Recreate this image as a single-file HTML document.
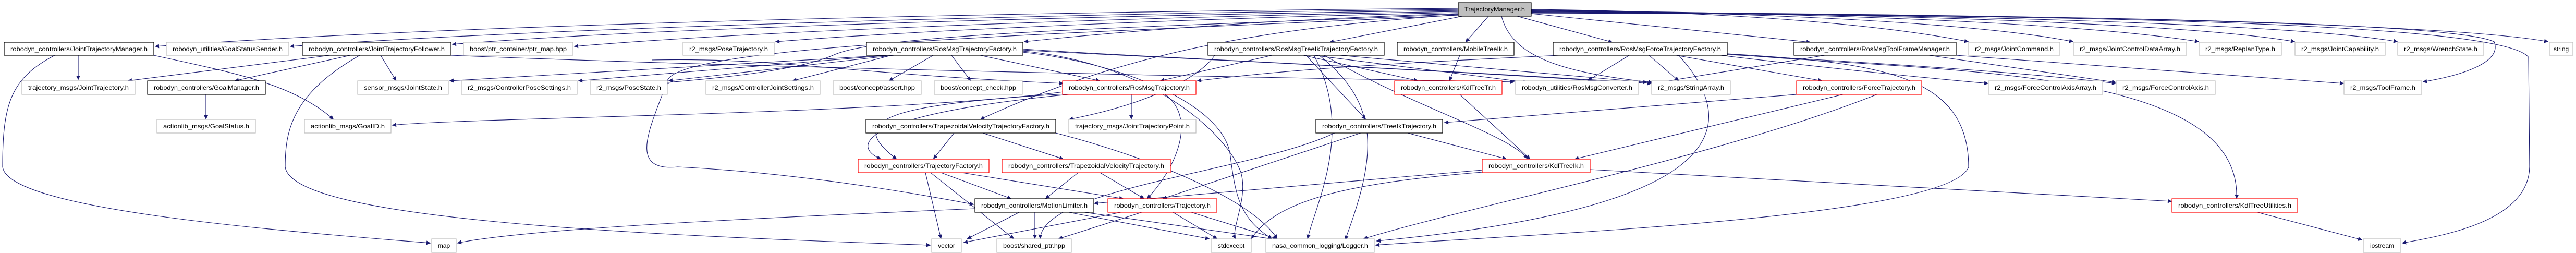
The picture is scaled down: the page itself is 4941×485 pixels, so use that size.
<!DOCTYPE html>
<html><head><meta charset="utf-8"><style>
html,body{margin:0;padding:0;background:#fff;}
svg{display:block;}
text{font-family:"Liberation Sans",sans-serif;font-size:12px;fill:#000;}
.e{fill:none;stroke:#191970;stroke-width:1.1;}
.g{fill:#fff;stroke:#bfbfbf;stroke-width:1.2;}
.b{fill:#fff;stroke:#000;stroke-width:1.2;}
.r{fill:#fff;stroke:#ff0000;stroke-width:1.2;}
</style></head><body>
<svg width="4941" height="485" viewBox="0 0 4941 485" xmlns="http://www.w3.org/2000/svg">
<defs><marker id="a" viewBox="0 0 10 10" refX="10" refY="5" markerWidth="11" markerHeight="8" markerUnits="userSpaceOnUse" orient="auto"><path d="M0,0 L10,5 L0,10 z" fill="#191970"/></marker></defs>
<g class="e" marker-end="url(#a)">
<!-- TrajectoryManager edges -->
<path d="M2797,16 C2000,22 900,45 297,89"/>
<path d="M2797,18 C2100,25 1100,50 556,89"/>
<path d="M2797,20 C2200,28 1300,50 867,85"/>
<path d="M2797,22 C2300,30 1500,55 1101,89"/>
<path d="M2797,24 C2400,32 1800,55 1487,80"/>
<path d="M2797,26 C2500,35 2200,55 1964,80"/>
<path d="M2805,31 L2550,81"/>
<path d="M2855,31 L2811,81"/>
<path d="M2910,31 L3093,81"/>
<path d="M2937,26 L3473,81"/>
<path d="M2937,18 C3300,22 3600,45 3776,80"/>
<path d="M2937,19 C3400,24 3800,45 3977,80"/>
<path d="M2937,20 C3500,24 4000,45 4218,80"/>
<path d="M2937,21 C3600,25 4200,45 4402,80"/>
<path d="M2937,22 C3700,26 4400,45 4599,80"/>
<path d="M2937,23 C3900,26 4700,45 4888,80"/>
<path d="M2937,24 C3900,28 4700,40 4784,80 C4800,120 4720,145 4647,157"/>
<path d="M2937,25 C3900,28 4800,40 4850,110 L4852,320 C4850,420 4700,450 4607,466"/>
<path d="M2880,31 C2900,110 3000,140 3170,158"/>
<path d="M2797,28 C2500,50 2200,80 1880,229"/>
<path d="M2797,29 C2200,60 1300,80 1280,155 C1250,240 1200,330 1300,320 C1500,330 1700,360 1868,392"/>
<path d="M2797,27 C2300,50 1700,60 1600,105 C1500,150 1200,160 1283,160"/>
<!-- JointTrajectoryManager -->
<path d="M150,106 L150,153"/>
<path d="M295,106 C450,140 560,160 640,229"/>
<path d="M105,106 C20,150 5,200 5,320 C15,400 500,440 826,466"/>
<!-- JointTrajectoryFollower -->
<path d="M633,106 L245,155"/>
<path d="M672,106 L450,155"/>
<path d="M730,106 L760,155"/>
<path d="M690,106 C560,180 547,250 547,320 C560,420 1200,450 1785,470"/>
<path d="M865,106 C1200,120 1900,140 2905,157"/>
<path d="M395,181 L395,229"/>
<!-- RosMsgTrajectoryFactory -->
<path d="M1700,106 L862,155"/>
<path d="M1705,106 L1109,155"/>
<path d="M1715,106 L1282,155"/>
<path d="M1710,106 L1520,155"/>
<path d="M1790,106 L1705,155"/>
<path d="M1825,106 L1862,155"/>
<path d="M1880,106 L2110,155"/>
<path d="M1962,100 C2150,120 2350,200 2360,300 C2370,380 2380,420 2440,458"/>
<path d="M1962,98 C2200,120 2350,250 2380,330 C2395,380 2360,440 2370,458"/>
<path d="M1962,96 C2200,110 2700,130 3143,160"/>
<path d="M1962,94 C2200,110 2700,130 3168,160"/>
<path d="M1250,115 C1500,110 1600,140 2040,160"/>
<path d="M2040,176 C1700,220 900,225 752,240"/>
<!-- RosMsgTreeIkTrajectoryFactory -->
<path d="M2440,106 L2225,155"/>
<path d="M2500,106 L2720,155"/>
<path d="M2520,106 L2930,158"/>
<path d="M2570,106 L3160,158"/>
<path d="M2330,106 C2300,150 2200,200 2050,229"/>
<path d="M2505,106 L2620,229"/>
<path d="M2540,106 C2700,200 2900,260 2930,305"/>
<path d="M2530,106 C2650,200 2640,300 2580,460"/>
<path d="M2520,106 C2600,250 2520,400 2508,458"/>
<path d="M2800,106 L2780,155"/>
<!-- RosMsgForceTrajectoryFactory -->
<path d="M3125,106 L3045,155"/>
<path d="M3163,106 L3220,155"/>
<path d="M3215,106 L3495,155"/>
<path d="M2990,106 C2700,120 2500,130 2296,155"/>
<path d="M3300,106 C3500,130 3700,150 3814,160"/>
<path d="M3300,104 C3600,120 3900,140 4059,160"/>
<path d="M3300,102 C3700,140 4300,120 4290,381"/>
<path d="M3313,103 C3600,120 3776,140 3776,320 C3740,420 2900,450 2638,470"/>
<path d="M3220,106 C3350,250 3300,400 2640,462"/>
<!-- ToolFrameManager -->
<path d="M3500,106 L3170,160"/>
<path d="M3752,106 L4496,160"/>
<path d="M3700,106 L4059,158"/>
<!-- row 2 downward -->
<path d="M2170,181 L2170,229"/>
<path d="M2045,180 C1700,200 1620,230 1720,305"/>
<path d="M2050,181 C1650,220 1630,280 1690,305"/>
<path d="M2235,181 C2300,230 2250,330 2200,381"/>
<path d="M2800,181 L2935,305"/>
<path d="M3535,181 L3020,305"/>
<path d="M3446,181 L2770,235"/>
<path d="M3600,181 C3300,300 2800,400 2615,458"/>
<path d="M1830,255 L1790,305"/>
<path d="M1885,255 L2040,305"/>
<path d="M2025,255 C2200,300 2400,380 2450,458"/>
<path d="M2700,255 L2890,305"/>
<path d="M2610,255 L2230,381"/>
<path d="M2560,255 C2400,330 2000,360 1995,458"/>
<path d="M1775,331 L1805,458"/>
<path d="M1785,331 L1945,458"/>
<path d="M1805,331 L1940,381"/>
<path d="M1845,331 L2155,381"/>
<path d="M2068,331 L2005,381"/>
<path d="M2110,331 L2195,381"/>
<path d="M2843,326 L2098,390"/>
<path d="M3050,325 L4166,386"/>
<path d="M2843,330 C2600,350 2450,380 2400,458"/>
<path d="M1955,407 L1855,458"/>
<path d="M1985,407 L1985,458"/>
<path d="M2050,407 L2320,458"/>
<path d="M2080,407 L2440,458"/>
<path d="M1870,400 C1400,420 1000,440 877,466"/>
<path d="M2150,407 L1848,465"/>
<path d="M2190,407 L2030,458"/>
<path d="M2250,407 L2335,458"/>
<path d="M2285,407 L2450,458"/>
<path d="M4330,407 L4531,460"/>
</g>
<!-- nodes -->
<rect x="2797" y="5" width="140" height="26" fill="#bfbfbf" stroke="#000" stroke-width="1.2"/>
<text x="2867" y="22" text-anchor="middle" textLength="116" lengthAdjust="spacingAndGlyphs">TrajectoryManager.h</text>

<rect class="b" x="8" y="81" width="287" height="25"/><text x="151.5" y="98" text-anchor="middle" textLength="263" lengthAdjust="spacingAndGlyphs">robodyn_controllers/JointTrajectoryManager.h</text>
<rect class="g" x="319" y="81" width="235" height="25"/><text x="436.5" y="98" text-anchor="middle" textLength="211" lengthAdjust="spacingAndGlyphs">robodyn_utilities/GoalStatusSender.h</text>
<rect class="b" x="580" y="81" width="285" height="25"/><text x="722.5" y="98" text-anchor="middle" textLength="261" lengthAdjust="spacingAndGlyphs">robodyn_controllers/JointTrajectoryFollower.h</text>
<rect class="g" x="889" y="81" width="210" height="25"/><text x="994" y="98" text-anchor="middle" textLength="186" lengthAdjust="spacingAndGlyphs">boost/ptr_container/ptr_map.hpp</text>
<rect class="g" x="1310" y="81" width="175" height="25"/><text x="1397.5" y="98" text-anchor="middle" textLength="151" lengthAdjust="spacingAndGlyphs">r2_msgs/PoseTrajectory.h</text>
<rect class="b" x="1662" y="81" width="300" height="25"/><text x="1812" y="98" text-anchor="middle" textLength="276" lengthAdjust="spacingAndGlyphs">robodyn_controllers/RosMsgTrajectoryFactory.h</text>
<rect class="b" x="2317" y="81" width="338" height="25"/><text x="2486" y="98" text-anchor="middle" textLength="314" lengthAdjust="spacingAndGlyphs">robodyn_controllers/RosMsgTreeIkTrajectoryFactory.h</text>
<rect class="b" x="2680" y="81" width="224" height="25"/><text x="2792" y="98" text-anchor="middle" textLength="200" lengthAdjust="spacingAndGlyphs">robodyn_controllers/MobileTreeIk.h</text>
<rect class="b" x="2979" y="81" width="334" height="25"/><text x="3146" y="98" text-anchor="middle" textLength="310" lengthAdjust="spacingAndGlyphs">robodyn_controllers/RosMsgForceTrajectoryFactory.h</text>
<rect class="b" x="3441" y="81" width="311" height="25"/><text x="3596.5" y="98" text-anchor="middle" textLength="287" lengthAdjust="spacingAndGlyphs">robodyn_controllers/RosMsgToolFrameManager.h</text>
<rect class="g" x="3776" y="81" width="175" height="25"/><text x="3863.5" y="98" text-anchor="middle" textLength="151" lengthAdjust="spacingAndGlyphs">r2_msgs/JointCommand.h</text>
<rect class="g" x="3977" y="81" width="217" height="25"/><text x="4085.5" y="98" text-anchor="middle" textLength="193" lengthAdjust="spacingAndGlyphs">r2_msgs/JointControlDataArray.h</text>
<rect class="g" x="4218" y="81" width="158" height="25"/><text x="4297" y="98" text-anchor="middle" textLength="134" lengthAdjust="spacingAndGlyphs">r2_msgs/ReplanType.h</text>
<rect class="g" x="4402" y="81" width="173" height="25"/><text x="4488.5" y="98" text-anchor="middle" textLength="149" lengthAdjust="spacingAndGlyphs">r2_msgs/JointCapability.h</text>
<rect class="g" x="4599" y="81" width="165" height="25"/><text x="4681.5" y="98" text-anchor="middle" textLength="141" lengthAdjust="spacingAndGlyphs">r2_msgs/WrenchState.h</text>
<rect class="g" x="4890" y="81" width="45" height="25"/><text x="4912.5" y="98" text-anchor="middle">string</text>

<rect class="g" x="42" y="155" width="217" height="26"/><text x="150.5" y="172" text-anchor="middle" textLength="193" lengthAdjust="spacingAndGlyphs">trajectory_msgs/JointTrajectory.h</text>
<rect class="b" x="283" y="155" width="226" height="26"/><text x="396" y="172" text-anchor="middle" textLength="202" lengthAdjust="spacingAndGlyphs">robodyn_controllers/GoalManager.h</text>
<rect class="g" x="686" y="155" width="174" height="26"/><text x="773" y="172" text-anchor="middle" textLength="150" lengthAdjust="spacingAndGlyphs">sensor_msgs/JointState.h</text>
<rect class="g" x="885" y="155" width="222" height="26"/><text x="996" y="172" text-anchor="middle" textLength="198" lengthAdjust="spacingAndGlyphs">r2_msgs/ControllerPoseSettings.h</text>
<rect class="g" x="1132" y="155" width="148" height="26"/><text x="1206" y="172" text-anchor="middle" textLength="124" lengthAdjust="spacingAndGlyphs">r2_msgs/PoseState.h</text>
<rect class="g" x="1354" y="155" width="219" height="26"/><text x="1463.5" y="172" text-anchor="middle" textLength="195" lengthAdjust="spacingAndGlyphs">r2_msgs/ControllerJointSettings.h</text>
<rect class="g" x="1598" y="155" width="169" height="26"/><text x="1682.5" y="172" text-anchor="middle" textLength="145" lengthAdjust="spacingAndGlyphs">boost/concept/assert.hpp</text>
<rect class="g" x="1792" y="155" width="169" height="26"/><text x="1876.5" y="172" text-anchor="middle" textLength="145" lengthAdjust="spacingAndGlyphs">boost/concept_check.hpp</text>
<rect class="r" x="2038" y="155" width="256" height="26"/><text x="2166" y="172" text-anchor="middle" textLength="232" lengthAdjust="spacingAndGlyphs">robodyn_controllers/RosMsgTrajectory.h</text>
<rect class="r" x="2675" y="155" width="206" height="26"/><text x="2778" y="172" text-anchor="middle" textLength="182" lengthAdjust="spacingAndGlyphs">robodyn_controllers/KdlTreeTr.h</text>
<rect class="g" x="2907" y="155" width="236" height="26"/><text x="3025" y="172" text-anchor="middle" textLength="212" lengthAdjust="spacingAndGlyphs">robodyn_utilities/RosMsgConverter.h</text>
<rect class="g" x="3168" y="155" width="151" height="26"/><text x="3243.5" y="172" text-anchor="middle" textLength="127" lengthAdjust="spacingAndGlyphs">r2_msgs/StringArray.h</text>
<rect class="r" x="3446" y="155" width="240" height="26"/><text x="3566" y="172" text-anchor="middle" textLength="216" lengthAdjust="spacingAndGlyphs">robodyn_controllers/ForceTrajectory.h</text>
<rect class="g" x="3814" y="155" width="219" height="26"/><text x="3923.5" y="172" text-anchor="middle" textLength="195" lengthAdjust="spacingAndGlyphs">r2_msgs/ForceControlAxisArray.h</text>
<rect class="g" x="4059" y="155" width="190" height="26"/><text x="4154" y="172" text-anchor="middle" textLength="166" lengthAdjust="spacingAndGlyphs">r2_msgs/ForceControlAxis.h</text>
<rect class="g" x="4496" y="155" width="149" height="26"/><text x="4570.5" y="172" text-anchor="middle" textLength="125" lengthAdjust="spacingAndGlyphs">r2_msgs/ToolFrame.h</text>

<rect class="g" x="301" y="229" width="189" height="26"/><text x="395.5" y="246" text-anchor="middle" textLength="165" lengthAdjust="spacingAndGlyphs">actionlib_msgs/GoalStatus.h</text>
<rect class="g" x="584" y="229" width="166" height="26"/><text x="667" y="246" text-anchor="middle" textLength="142" lengthAdjust="spacingAndGlyphs">actionlib_msgs/GoalID.h</text>
<rect class="b" x="1661" y="229" width="364" height="26"/><text x="1843" y="246" text-anchor="middle" textLength="340" lengthAdjust="spacingAndGlyphs">robodyn_controllers/TrapezoidalVelocityTrajectoryFactory.h</text>
<rect class="g" x="2050" y="229" width="244" height="26"/><text x="2172" y="246" text-anchor="middle" textLength="220" lengthAdjust="spacingAndGlyphs">trajectory_msgs/JointTrajectoryPoint.h</text>
<rect class="b" x="2524" y="229" width="243" height="26"/><text x="2645.5" y="246" text-anchor="middle" textLength="219" lengthAdjust="spacingAndGlyphs">robodyn_controllers/TreeIkTrajectory.h</text>

<rect class="r" x="1646" y="305" width="251" height="26"/><text x="1771.5" y="322" text-anchor="middle" textLength="227" lengthAdjust="spacingAndGlyphs">robodyn_controllers/TrajectoryFactory.h</text>
<rect class="r" x="1922" y="305" width="323" height="26"/><text x="2083.5" y="322" text-anchor="middle" textLength="299" lengthAdjust="spacingAndGlyphs">robodyn_controllers/TrapezoidalVelocityTrajectory.h</text>
<rect class="r" x="2843" y="305" width="207" height="26"/><text x="2946.5" y="322" text-anchor="middle" textLength="183" lengthAdjust="spacingAndGlyphs">robodyn_controllers/KdlTreeIk.h</text>

<rect class="b" x="1870" y="381" width="228" height="26"/><text x="1984" y="398" text-anchor="middle" textLength="204" lengthAdjust="spacingAndGlyphs">robodyn_controllers/MotionLimiter.h</text>
<rect class="r" x="2125" y="381" width="209" height="26"/><text x="2229.5" y="398" text-anchor="middle" textLength="185" lengthAdjust="spacingAndGlyphs">robodyn_controllers/Trajectory.h</text>
<rect class="r" x="4166" y="381" width="241" height="26"/><text x="4286.5" y="398" text-anchor="middle" textLength="217" lengthAdjust="spacingAndGlyphs">robodyn_controllers/KdlTreeUtilities.h</text>

<rect class="g" x="828" y="458" width="47" height="26"/><text x="851.5" y="475" text-anchor="middle">map</text>
<rect class="g" x="1787" y="458" width="57" height="26"/><text x="1815.5" y="475" text-anchor="middle">vector</text>
<rect class="g" x="1912" y="458" width="143" height="26"/><text x="1983.5" y="475" text-anchor="middle" textLength="119" lengthAdjust="spacingAndGlyphs">boost/shared_ptr.hpp</text>
<rect class="g" x="2323" y="458" width="77" height="26"/><text x="2361.5" y="475" text-anchor="middle">stdexcept</text>
<rect class="g" x="2428" y="458" width="208" height="26"/><text x="2532" y="475" text-anchor="middle" textLength="184" lengthAdjust="spacingAndGlyphs">nasa_common_logging/Logger.h</text>
<rect class="g" x="4533" y="458" width="72" height="26"/><text x="4569" y="475" text-anchor="middle">iostream</text>
</svg>
</body></html>
